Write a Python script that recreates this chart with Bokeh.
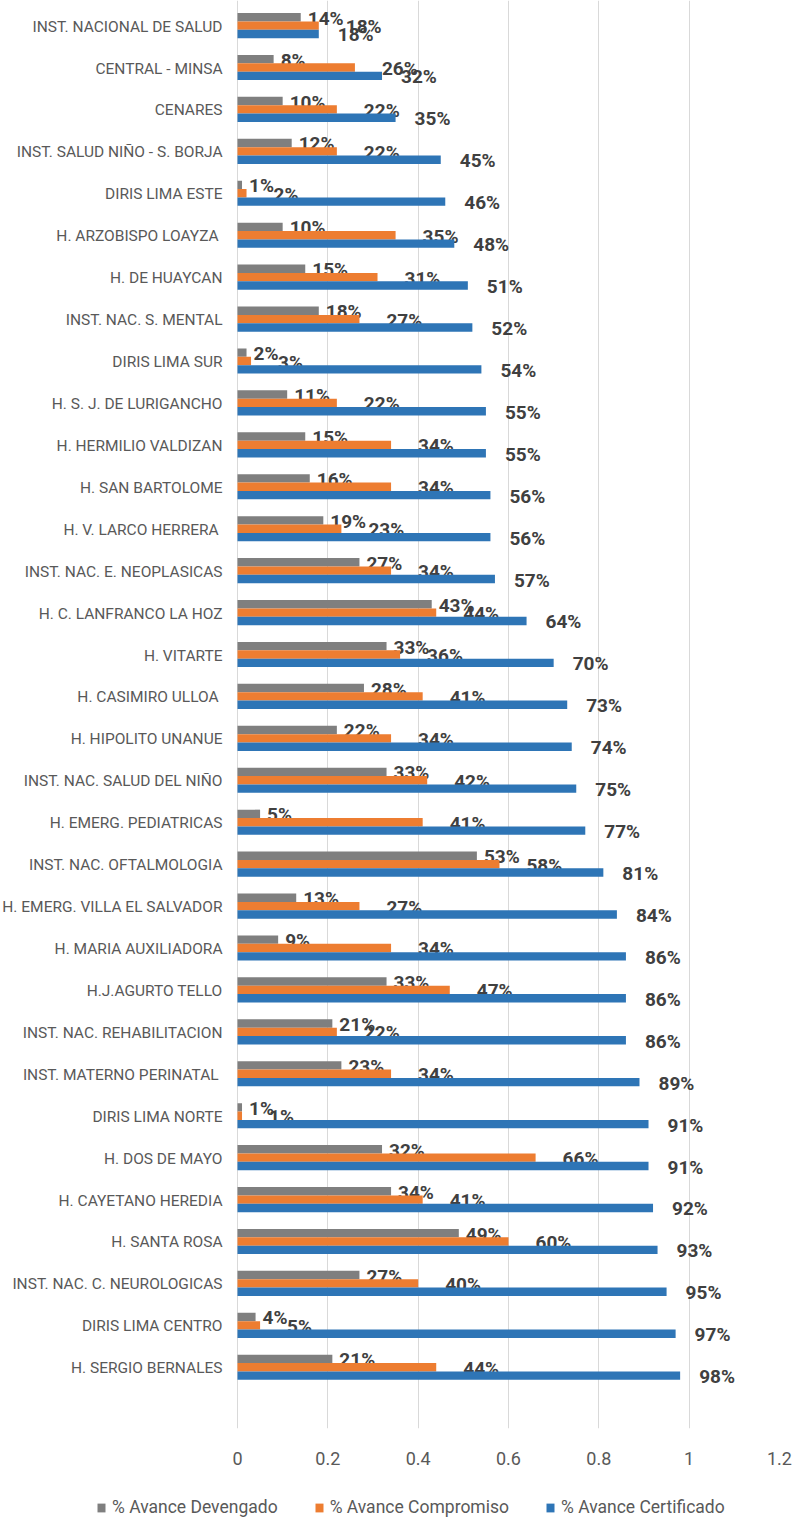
from bokeh.plotting import figure
from bokeh.layouts import column
from bokeh.models import (ColumnDataSource, Range1d, FixedTicker, NumeralTickFormatter,
                          Legend, LegendItem, LinearAxis, Grid)
from bokeh.transform import dodge
from bokeh.core.properties import value
from bokeh.embed import file_html
from bokeh.resources import INLINE

categories = [
    "INST. NACIONAL DE SALUD", "CENTRAL - MINSA", "CENARES", "INST. SALUD NIÑO - S. BORJA",
    "DIRIS LIMA ESTE", "H.  ARZOBISPO LOAYZA", "H. DE HUAYCAN", "INST. NAC. S. MENTAL",
    "DIRIS LIMA SUR", "H. S. J. DE LURIGANCHO", "H. HERMILIO VALDIZAN", "H. SAN BARTOLOME",
    "H.  V. LARCO HERRERA", "INST. NAC. E. NEOPLASICAS", "H. C. LANFRANCO LA HOZ", "H. VITARTE",
    "H.  CASIMIRO ULLOA", "H. HIPOLITO UNANUE", "INST. NAC. SALUD DEL NIÑO", "H. EMERG. PEDIATRICAS",
    "INST. NAC. OFTALMOLOGIA", "H. EMERG. VILLA EL SALVADOR", "H. MARIA AUXILIADORA", "H.J.AGURTO TELLO",
    "INST. NAC. REHABILITACION", "INST.  MATERNO PERINATAL", "DIRIS LIMA NORTE", "H. DOS DE MAYO",
    "H. CAYETANO HEREDIA", "H. SANTA ROSA", "INST. NAC. C. NEUROLOGICAS", "DIRIS LIMA CENTRO",
    "H. SERGIO BERNALES",
]
devengado = [0.14, 0.08, 0.10, 0.12, 0.01, 0.10, 0.15, 0.18, 0.02, 0.11, 0.15, 0.16, 0.19, 0.27,
             0.43, 0.33, 0.28, 0.22, 0.33, 0.05, 0.53, 0.13, 0.09, 0.33, 0.21, 0.23, 0.01, 0.32,
             0.34, 0.49, 0.27, 0.04, 0.21]
compromiso = [0.18, 0.26, 0.22, 0.22, 0.02, 0.35, 0.31, 0.27, 0.03, 0.22, 0.34, 0.34, 0.23, 0.34,
              0.44, 0.36, 0.41, 0.34, 0.42, 0.41, 0.58, 0.27, 0.34, 0.47, 0.22, 0.34, 0.01, 0.66,
              0.41, 0.60, 0.40, 0.05, 0.44]
certificado = [0.18, 0.32, 0.35, 0.45, 0.46, 0.48, 0.51, 0.52, 0.54, 0.55, 0.55, 0.56, 0.56, 0.57,
               0.64, 0.70, 0.73, 0.74, 0.75, 0.77, 0.81, 0.84, 0.86, 0.86, 0.86, 0.89, 0.91, 0.91,
               0.92, 0.93, 0.95, 0.97, 0.98]
series_names = ["% Avance Devengado", "% Avance Compromiso", "% Avance Certificado"]
series_colors = ["#7F7F7F", "#ED7D31", "#2E75B6"]
xticks = [0, 0.2, 0.4, 0.6, 0.8, 1.0, 1.2]

FONT = "Roboto"
W = 793
# horizontal scale: frame spans the full canvas width minus a right border;
# the category-label gutter is part of the x range (left of zero)
RIGHT_BORDER = 14
PX_PER_UNIT = (W - RIGHT_BORDER - 237) / 1.2
X_START = -237 / PX_PER_UNIT

idx = list(range(len(categories)))
src = ColumnDataSource(dict(
    idx=idx, cat=categories, zero=[0] * len(idx),
    dev=devengado, com=compromiso, cer=certificado,
    dev_l=[f"{round(v * 100)}%" for v in devengado],
    com_l=[f"{round(v * 100)}%" for v in compromiso],
    cer_l=[f"{round(v * 100)}%" for v in certificado],
))

p = figure(width=W, height=1467,
           x_range=Range1d(X_START, 1.2), y_range=Range1d(33.46, -0.598),
           output_backend="svg", toolbar_location=None,
           min_border_left=0, min_border_right=RIGHT_BORDER, min_border_top=0, min_border_bottom=0,
           x_axis_location=None, y_axis_location=None)
p.outline_line_color = None
p.background_fill_color = "white"

fields = ["dev", "com", "cer"]
offsets = [-0.2, 0.0, 0.2]
label_dx = [7, 27, 19]
renderers = []
for f, off, col, dx in zip(fields, offsets, series_colors, label_dx):
    r = p.hbar(y=dodge("idx", off, range=p.y_range), left=0, right=f, height=0.2,
               source=src, fill_color=col, line_color=None)
    renderers.append(r)
    p.text(x=f, y=dodge("idx", off, range=p.y_range), text=f + "_l", source=src,
           x_offset=dx, y_offset=1, text_align="left", text_baseline="middle",
           text_font=value(FONT), text_font_style="bold", text_font_size="19px",
           text_color="#404040")

# category labels (left of the zero line)
p.text(x="zero", y="idx", text="cat", source=src, x_offset=-15, y_offset=1,
       text_align="right", text_baseline="middle",
       text_font=value(FONT), text_font_size="15.5px", text_color="#595959")

# x axis
xax = LinearAxis(ticker=FixedTicker(ticks=xticks),
                 formatter=NumeralTickFormatter(format="0.[0]"))
xax.axis_line_color = None
xax.major_tick_line_color = None
xax.minor_tick_line_color = None
xax.major_tick_out = 0
xax.major_tick_in = 0
xax.major_label_standoff = 23
xax.major_label_text_font = FONT
xax.major_label_text_font_size = "18px"
xax.major_label_text_color = "#595959"
p.add_layout(xax, "below")

p.ygrid.grid_line_color = None
p.xgrid.grid_line_color = None
p.add_layout(Grid(dimension=0, ticker=xax.ticker, grid_line_color="#D9D9D9", grid_line_width=1))

# legend strip below the chart
pl = figure(width=W, height=50, x_range=Range1d(0, 1), y_range=Range1d(0, 1),
            output_backend="svg", toolbar_location=None,
            min_border_left=0, min_border_right=RIGHT_BORDER, min_border_top=0, min_border_bottom=0,
            x_axis_location=None, y_axis_location=None)
pl.outline_line_color = None
pl.xgrid.grid_line_color = None
pl.ygrid.grid_line_color = None
# legend proxies (placed outside the visible range, only their swatches show in the legend)
leg_src = ColumnDataSource(dict(y=[-5], right=[0]))
leg_renderers = [pl.hbar(y="y", right="right", height=0.2, source=leg_src,
                         fill_color=c, line_color=None) for c in series_colors]
legend = Legend(items=[LegendItem(label=n, renderers=[r]) for n, r in zip(series_names, leg_renderers)],
                orientation="horizontal", location=(96, 0))
legend.label_text_font = FONT
legend.label_text_font_size = "17.5px"
legend.label_text_color = "#595959"
legend.glyph_width = 10
legend.glyph_height = 11
legend.label_standoff = 6
legend.spacing = 36
legend.padding = 0
legend.margin = 0
legend.border_line_color = None
legend.background_fill_alpha = 0
pl.add_layout(legend, "center")

layout = column(p, pl, spacing=0)
open("out.html", "w").write(file_html(layout, INLINE))
